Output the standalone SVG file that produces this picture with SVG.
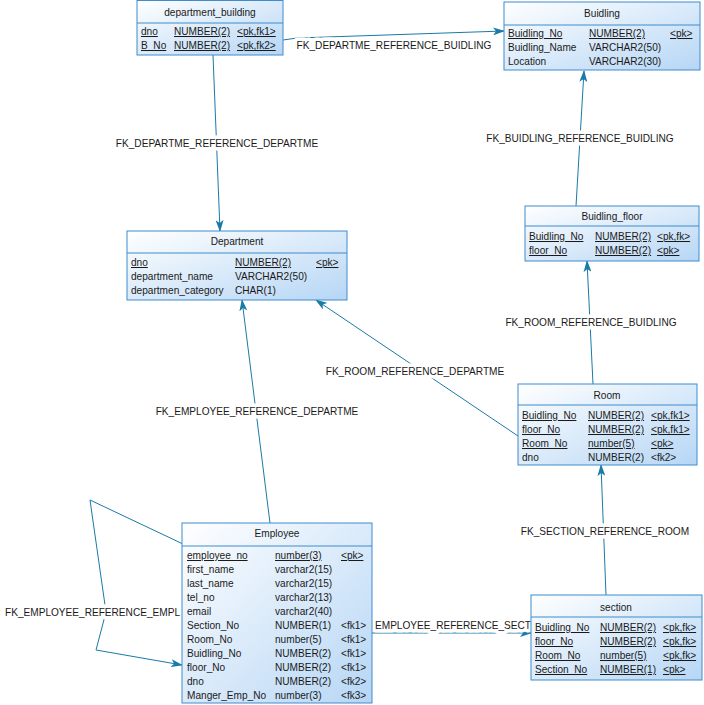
<svg xmlns="http://www.w3.org/2000/svg" width="704" height="705" viewBox="0 0 704 705">
<defs>
<linearGradient id="g" x1="0" y1="0" x2="1" y2="1">
<stop offset="0" stop-color="#ffffff"/>
<stop offset="1" stop-color="#b6d6f5"/>
</linearGradient>
<marker id="arr" viewBox="0 0 12 8" refX="11" refY="4" markerWidth="12" markerHeight="8" markerUnits="userSpaceOnUse" orient="auto">
<path d="M0,0 L12,4 L0,8 L3,4 z" fill="#1a7aa8"/>
</marker>
</defs>
<style>
text{font-family:"Liberation Sans",Arial,sans-serif;font-size:10.1px;fill:#1a1a1a}
.box{fill:url(#g);stroke:#3f8ccc;stroke-width:1}
.sep{stroke:#3f8ccc;stroke-width:1}
.t{text-anchor:middle}
.u{text-decoration:underline}
.c{fill:none;stroke:#1a7aa8;stroke-width:1;marker-end:url(#arr)}
.lbl{stroke:#fff;stroke-width:7;paint-order:stroke;stroke-linejoin:round}
.lc{text-anchor:middle}
</style>
<rect width="704" height="705" fill="#fff"/>
<g id="connectors">
<polyline class="c" points="283,40 297,38 504,31"/>
<line class="c" x1="213" y1="55" x2="220" y2="231"/>
<line class="c" x1="576" y1="206" x2="584" y2="71"/>
<line class="c" x1="593" y1="384" x2="587" y2="261"/>
<line class="c" x1="518" y1="436" x2="316" y2="300"/>
<line class="c" x1="270" y1="523" x2="242" y2="300"/>
<line class="c" x1="606" y1="595" x2="601" y2="465"/>
<line class="c" x1="372" y1="633" x2="531" y2="633"/>
<polyline class="c" points="183,544 90,500 106,612 96,650 182,665"/>
<text class="lbl lc" x="394" y="49">FK_DEPARTME_REFERENCE_BUIDLING</text>
<text class="lbl lc" x="217" y="147">FK_DEPARTME_REFERENCE_DEPARTME</text>
<text class="lbl lc" x="580" y="142">FK_BUIDLING_REFERENCE_BUIDLING</text>
<text class="lbl lc" x="591" y="326">FK_ROOM_REFERENCE_BUIDLING</text>
<text class="lbl lc" x="415" y="375">FK_ROOM_REFERENCE_DEPARTME</text>
<text class="lbl lc" x="257" y="415">FK_EMPLOYEE_REFERENCE_DEPARTME</text>
<text class="lbl lc" x="605" y="535">FK_SECTION_REFERENCE_ROOM</text>
<text class="lbl" x="375" y="629">EMPLOYEE_REFERENCE_SECT</text>
<text class="lbl" x="5" y="616">FK_EMPLOYEE_REFERENCE_EMPL</text>
</g>
<g id="department_building">
<rect class="box" x="137" y="0.5" width="146" height="54.5"/>
<line class="sep" x1="137" y1="23" x2="283" y2="23"/>
<text class="t" x="210" y="16">department_building</text>
<text class="u" x="141" y="35">dno</text><text class="u" x="174" y="35">NUMBER(2)</text><text class="u" x="237" y="35">&lt;pk,fk1&gt;</text>
<text class="u" x="141" y="49">B_No</text><text class="u" x="174" y="49">NUMBER(2)</text><text class="u" x="237" y="49">&lt;pk,fk2&gt;</text>
</g>
<g id="Buidling">
<rect class="box" x="504" y="2" width="196" height="68"/>
<line class="sep" x1="504" y1="25" x2="700" y2="25"/>
<text class="t" x="602" y="17">Buidling</text>
<text class="u" x="508" y="37">Buidling_No</text><text class="u" x="589" y="37">NUMBER(2)</text><text class="u" x="670" y="37">&lt;pk&gt;</text>
<text x="508" y="51">Buidling_Name</text><text x="589" y="51">VARCHAR2(50)</text>
<text x="508" y="65">Location</text><text x="589" y="65">VARCHAR2(30)</text>
</g>
<g id="Buidling_floor">
<rect class="box" x="525" y="206" width="174" height="55"/>
<line class="sep" x1="525" y1="226" x2="699" y2="226"/>
<text class="t" x="612" y="220">Buidling_floor</text>
<text class="u" x="529" y="240">Buidling_No</text><text class="u" x="595" y="240">NUMBER(2)</text><text class="u" x="657" y="240">&lt;pk,fk&gt;</text>
<text class="u" x="529" y="254">floor_No</text><text class="u" x="595" y="254">NUMBER(2)</text><text class="u" x="657" y="254">&lt;pk&gt;</text>
</g>
<g id="Department">
<rect class="box" x="127" y="231" width="220" height="69"/>
<line class="sep" x1="127" y1="253" x2="347" y2="253"/>
<text class="t" x="237" y="245">Department</text>
<text class="u" x="131" y="266">dno</text><text class="u" x="235" y="266">NUMBER(2)</text><text class="u" x="316" y="266">&lt;pk&gt;</text>
<text x="131" y="280">department_name</text><text x="235" y="280">VARCHAR2(50)</text>
<text x="131" y="294">departmen_category</text><text x="235" y="294">CHAR(1)</text>
</g>
<g id="Room">
<rect class="box" x="518" y="384" width="179" height="81"/>
<line class="sep" x1="518" y1="405" x2="697" y2="405"/>
<text class="t" x="607" y="399">Room</text>
<text class="u" x="522" y="419">Buidling_No</text><text class="u" x="588" y="419">NUMBER(2)</text><text class="u" x="651" y="419">&lt;pk,fk1&gt;</text>
<text class="u" x="522" y="433">floor_No</text><text class="u" x="588" y="433">NUMBER(2)</text><text class="u" x="651" y="433">&lt;pk,fk1&gt;</text>
<text class="u" x="522" y="447">Room_No</text><text class="u" x="588" y="447">number(5)</text><text class="u" x="651" y="447">&lt;pk&gt;</text>
<text x="522" y="461">dno</text><text x="588" y="461">NUMBER(2)</text><text x="651" y="461">&lt;fk2&gt;</text>
</g>
<g id="Employee">
<rect class="box" x="182" y="523" width="190" height="180"/>
<line class="sep" x1="182" y1="546" x2="372" y2="546"/>
<text class="t" x="277" y="537">Employee</text>
<text class="u" x="187" y="559">employee_no</text><text class="u" x="275" y="559">number(3)</text><text class="u" x="341" y="559">&lt;pk&gt;</text>
<text x="187" y="573">first_name</text><text x="275" y="573">varchar2(15)</text>
<text x="187" y="587">last_name</text><text x="275" y="587">varchar2(15)</text>
<text x="187" y="601">tel_no</text><text x="275" y="601">varchar2(13)</text>
<text x="187" y="615">email</text><text x="275" y="615">varchar2(40)</text>
<text x="187" y="629">Section_No</text><text x="275" y="629">NUMBER(1)</text><text x="341" y="629">&lt;fk1&gt;</text>
<text x="187" y="643">Room_No</text><text x="275" y="643">number(5)</text><text x="341" y="643">&lt;fk1&gt;</text>
<text x="187" y="657">Buidling_No</text><text x="275" y="657">NUMBER(2)</text><text x="341" y="657">&lt;fk1&gt;</text>
<text x="187" y="671">floor_No</text><text x="275" y="671">NUMBER(2)</text><text x="341" y="671">&lt;fk1&gt;</text>
<text x="187" y="685">dno</text><text x="275" y="685">NUMBER(2)</text><text x="341" y="685">&lt;fk2&gt;</text>
<text x="187" y="699">Manger_Emp_No</text><text x="275" y="699">number(3)</text><text x="341" y="699">&lt;fk3&gt;</text>
</g>
<g id="section">
<rect class="box" x="531" y="595" width="171" height="85"/>
<line class="sep" x1="531" y1="617" x2="702" y2="617"/>
<text class="t" x="616" y="611">section</text>
<text class="u" x="535" y="631">Buidling_No</text><text class="u" x="600" y="631">NUMBER(2)</text><text class="u" x="663" y="631">&lt;pk,fk&gt;</text>
<text class="u" x="535" y="645">floor_No</text><text class="u" x="600" y="645">NUMBER(2)</text><text class="u" x="663" y="645">&lt;pk,fk&gt;</text>
<text class="u" x="535" y="659">Room_No</text><text class="u" x="600" y="659">number(5)</text><text class="u" x="663" y="659">&lt;pk,fk&gt;</text>
<text class="u" x="535" y="673">Section_No</text><text class="u" x="600" y="673">NUMBER(1)</text><text class="u" x="663" y="673">&lt;pk&gt;</text>
</g>
</svg>
